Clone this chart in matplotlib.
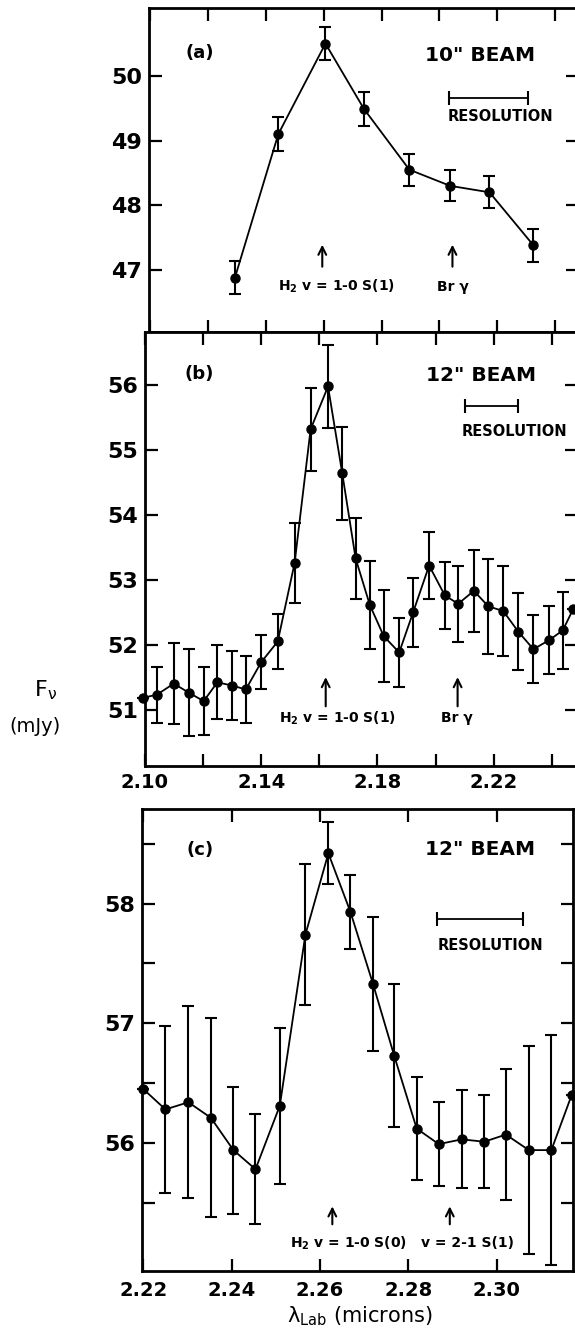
import matplotlib
matplotlib.use('Agg')
import matplotlib.pyplot as plt
from matplotlib.ticker import MultipleLocator, FixedLocator, FixedFormatter

# ---------------- data ----------------
# Panel (a): 10" beam
wl_a = [2.1293, 2.1443, 2.1606, 2.1739, 2.1896, 2.2037, 2.2173, 2.2325]
flux_a = [46.88, 49.10, 50.50, 49.49, 48.55, 48.30, 48.20, 47.38]
err_a = [0.26, 0.26, 0.26, 0.26, 0.25, 0.24, 0.25, 0.25]

# Panel (b): 12" beam, S(1) region
wl_b = [2.0993, 2.1041, 2.1099, 2.1151, 2.1202, 2.1249, 2.1300, 2.1347, 2.1400, 2.1457,
        2.1515, 2.1570, 2.1630, 2.1679, 2.1725, 2.1774, 2.1822, 2.1875, 2.1923, 2.1978,
        2.2032, 2.2078, 2.2132, 2.2182, 2.2233, 2.2285, 2.2337, 2.2391, 2.2438, 2.2474]
flux_b = [51.18, 51.23, 51.40, 51.26, 51.13, 51.42, 51.37, 51.31, 51.73, 52.05,
          53.26, 55.32, 55.98, 54.64, 53.33, 52.61, 52.13, 51.88, 52.50, 53.22,
          52.76, 52.63, 52.83, 52.59, 52.52, 52.20, 51.93, 52.07, 52.22, 52.55]
err_b = [0.0, 0.43, 0.63, 0.67, 0.52, 0.57, 0.53, 0.52, 0.42, 0.42,
         0.61, 0.64, 0.64, 0.72, 0.63, 0.68, 0.71, 0.53, 0.53, 0.51,
         0.52, 0.59, 0.63, 0.73, 0.70, 0.59, 0.52, 0.52, 0.59, 0.0]

# Panel (c): 12" beam, S(0) region
wl_c = [2.2200, 2.2250, 2.2302, 2.2353, 2.2404, 2.2454, 2.2509, 2.2567, 2.2619, 2.2669,
        2.2720, 2.2768, 2.2819, 2.2869, 2.2921, 2.2972, 2.3021, 2.3073, 2.3124, 2.3170]
flux_c = [56.45, 56.28, 56.34, 56.21, 55.94, 55.78, 56.31, 57.74, 58.42, 57.93,
          57.33, 56.73, 56.12, 55.99, 56.03, 56.01, 56.07, 55.94, 55.94, 56.40]
err_c = [0.0, 0.70, 0.80, 0.83, 0.53, 0.46, 0.65, 0.59, 0.26, 0.31,
         0.56, 0.60, 0.43, 0.35, 0.41, 0.39, 0.55, 0.87, 0.96, 0.0]

panel_labels = ['(a)', '(b)', '(c)']
beam_labels = ['10" BEAM', '12" BEAM', '12" BEAM']
res_a = (2.2034, 2.2307)
res_b = (2.2101, 2.2283)
res_c = (2.2866, 2.3060)
lines_a = [(2.1595, r'H$_\mathbf{2}$ v = 1-0 S(1)', 2.1646), (2.2045, 'Br γ', 2.2046)]
lines_b = [(2.1622, r'H$_\mathbf{2}$ v = 1-0 S(1)', 2.1664), (2.2076, 'Br γ', 2.2075)]
lines_c = [(2.2628, r'H$_\mathbf{2}$ v = 1-0 S(0)', 2.2665), (2.2894, 'v = 2-1 S(1)', 2.2933)]

yticks_a = [47, 48, 49, 50]
yticks_b = [51, 52, 53, 54, 55, 56]
yticks_c = [56, 57, 58]
yminor_c = [55.5, 56.5, 57.5, 58.5]
xticks_b = [2.10, 2.12, 2.14, 2.16, 2.18, 2.20, 2.22, 2.24]
xticklabels_b = ['2.10', '', '2.14', '', '2.18', '', '2.22', '']
xticks_c = [2.22, 2.24, 2.26, 2.28, 2.30]
xticklabels_c = ['2.22', '2.24', '2.26', '2.28', '2.30']

plt.rcParams['font.family'] = ['DejaVu Sans']
plt.rcParams['mathtext.default'] = 'regular'

W, H = 575, 1335
fig = plt.figure(figsize=(W / 100, H / 100), dpi=100)


def box(l, t, r, b):
    return [l / W, 1 - b / H, (r - l) / W, (b - t) / H]


axa = fig.add_axes(box(149, 8, 578, 332))
axb = fig.add_axes(box(145, 332, 577, 766))
axc = fig.add_axes(box(142, 809, 573, 1271))

axa.set_xlim(2.0996, 2.2479)
axa.set_ylim(46.04, 51.05)
axb.set_xlim(2.10, 2.2487)
axb.set_ylim(50.13, 56.82)
axc.set_xlim(2.2197, 2.3173)
axc.set_ylim(54.93, 58.79)

for ax, wl, fl, er in [(axa, wl_a, flux_a, err_a), (axb, wl_b, flux_b, err_b), (axc, wl_c, flux_c, err_c)]:
    ax.errorbar(wl, fl, yerr=er, fmt='-o', color='black', lw=1.3, ms=6.5,
                elinewidth=1.5, capsize=4.5, capthick=1.5, clip_on=False, zorder=3)
    for s in ax.spines.values():
        s.set_linewidth(2.0)
    ax.tick_params(which='both', direction='in', length=9, width=1.6,
                   top=True, right=True, labelsize=16, pad=5)

# ticks
axa.xaxis.set_major_locator(MultipleLocator(0.02))
axa.yaxis.set_major_locator(FixedLocator(yticks_a))
axa.set_xticklabels([])
axb.xaxis.set_major_locator(FixedLocator(xticks_b))
axb.xaxis.set_major_formatter(FixedFormatter(xticklabels_b))
axb.yaxis.set_major_locator(FixedLocator(yticks_b))
axc.xaxis.set_major_locator(FixedLocator(xticks_c))
axc.xaxis.set_major_formatter(FixedFormatter(xticklabels_c))
axc.yaxis.set_major_locator(FixedLocator(yticks_c))
axc.yaxis.set_minor_locator(FixedLocator(yminor_c))
axc.tick_params(axis='x', pad=7)

for ax in (axa, axb, axc):
    for lab in ax.get_xticklabels() + ax.get_yticklabels():
        lab.set_fontweight('bold')
    for lab in ax.get_xticklabels():
        lab.set_fontsize(14)

# text annotations
cfg = [
    (axa, 0, (2.1172, 50.36), (2.2141, 50.31), res_a, 49.66, (2.2210, 49.37), lines_a, (47.05, 47.39), 46.74),
    (axb, 1, (2.1188, 56.18), (2.2157, 56.15), res_b, 55.68, (2.2270, 55.28), lines_b, (51.05, 51.50), 50.87),
    (axc, 2, (2.2328, 58.45), (2.2962, 58.45), res_c, 57.87, (2.2985, 57.65), lines_c, (55.32, 55.47), 55.16),
]
for ax, i, plab, pbeam, res, ry, rlab, lines, arr, ty in cfg:
    ax.text(*plab, panel_labels[i], ha='center', va='center', fontsize=13, fontweight='bold')
    ax.text(*pbeam, beam_labels[i], ha='center', va='center', fontsize=14.5, fontweight='bold')
    ax.errorbar([(res[0] + res[1]) / 2], [ry], xerr=[(res[1] - res[0]) / 2], fmt='none',
                ecolor='black', elinewidth=1.3, capsize=5, capthick=1.5)
    ax.text(*rlab, 'RESOLUTION', ha='center', va='center', fontsize=10.5, fontweight='bold')
    for xa, txt, xt in lines:
        ax.annotate('', xy=(xa, arr[1]), xytext=(xa, arr[0]),
                    arrowprops=dict(arrowstyle='->', lw=1.5, color='black',
                                    shrinkA=0, shrinkB=0, mutation_scale=14))
        ax.text(xt, ty, txt, ha='center', va='center', fontsize=10, fontweight='bold')

fig.text(45 / W, 1 - 690 / H, r'F$_{\nu}$', ha='center', va='center', fontsize=16)
fig.text(35 / W, 1 - 727 / H, '(mJy)', ha='center', va='center', fontsize=14)
fig.text(360 / W, 1 - 1316 / H, r'$\lambda_{\mathrm{Lab}}$ (microns)', ha='center', va='center', fontsize=15)

fig.savefig('out.png', dpi=100)
